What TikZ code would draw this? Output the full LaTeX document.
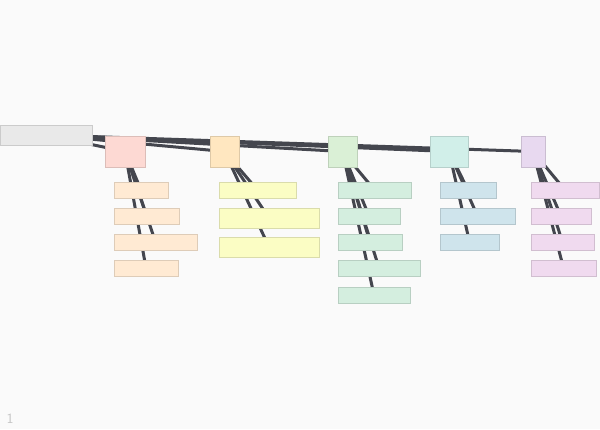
\documentclass[tikz,border=0pt]{standalone}
\usepackage{tikz}
\usetikzlibrary{fit}
\usepackage{xcolor}
\definecolor{bgcol}{HTML}{FAFAFA}
\definecolor{linkcol}{HTML}{44464E}
\definecolor{numcol}{HTML}{C4C4C4}
\definecolor{rootcol}{HTML}{E9E9E9}
\definecolor{redbr}{HTML}{FDD9D3}
\definecolor{redlf}{HTML}{FFEAD3}
\definecolor{orangebr}{HTML}{FFE7C0}
\definecolor{orangelf}{HTML}{FBFDC4}
\definecolor{greenbr}{HTML}{DAF0D6}
\definecolor{greenlf}{HTML}{D4EEDF}
\definecolor{tealbr}{HTML}{D1EFE9}
\definecolor{teallf}{HTML}{CFE4EC}
\definecolor{purplebr}{HTML}{E8D9F0}
\definecolor{purplelf}{HTML}{F0DAEF}
\pgfdeclarelayer{back}
\pgfdeclarelayer{links}
\pgfsetlayers{back,links,main}
\tikzset{
	box/.style={fill=#1, draw=#1!87!black, line width=0.75pt, inner sep=0pt},
	link/.style={draw=linkcol, line width=2.25pt},
}

\begin{document}
\begin{tikzpicture}[x=0.75pt, y=-0.75pt]
				\begin{pgfonlayer}{back}
					\fill[bgcol] (0,0) rectangle (600,429);
				\end{pgfonlayer}
				\useasboundingbox (0,0) rectangle (600,429);
				% root and branches
				\node[box=rootcol, fit={(0,125) (92,145)}] (root) {};
				\node[box=redbr, fit={(105,136) (145,167)}] (br1) {};
				\node[box=orangebr, fit={(210,136) (239,167)}] (br2) {};
				\node[box=greenbr, fit={(328,136) (357,167)}] (br3) {};
				\node[box=tealbr, fit={(430,136) (468,167)}] (br4) {};
				\node[box=purplebr, fit={(521,136) (545,167)}] (br5) {};
				% leaves
				\node[box=redlf, fit={(114,182) (168,198)}] (lf11) {};
				\node[box=redlf, fit={(114,208) (179,224)}] (lf12) {};
				\node[box=redlf, fit={(114,234) (197,250)}] (lf13) {};
				\node[box=redlf, fit={(114,260) (178,276)}] (lf14) {};
				\node[box=orangelf, fit={(219,182) (296,198)}] (lf21) {};
				\node[box=orangelf, fit={(219,208) (319,228)}] (lf22) {};
				\node[box=orangelf, fit={(219,237) (319,257)}] (lf23) {};
				\node[box=greenlf, fit={(338,182) (411,198)}] (lf31) {};
				\node[box=greenlf, fit={(338,208) (400,224)}] (lf32) {};
				\node[box=greenlf, fit={(338,234) (402,250)}] (lf33) {};
				\node[box=greenlf, fit={(338,260) (420,276)}] (lf34) {};
				\node[box=greenlf, fit={(338,287) (410,303)}] (lf35) {};
				\node[box=teallf, fit={(440,182) (496,198)}] (lf41) {};
				\node[box=teallf, fit={(440,208) (515,224)}] (lf42) {};
				\node[box=teallf, fit={(440,234) (499,250)}] (lf43) {};
				\node[box=purplelf, fit={(531,182) (599,198)}] (lf51) {};
				\node[box=purplelf, fit={(531,208) (591,224)}] (lf52) {};
				\node[box=purplelf, fit={(531,234) (594,250)}] (lf53) {};
				\node[box=purplelf, fit={(531,260) (596,276)}] (lf54) {};
				% links behind the boxes
				\begin{pgfonlayer}{links}
					\foreach \b in {br1,br2,br3,br4,br5}
						\draw[link] (root.center) -- (\b.center);
					\foreach \l in {lf11,lf12,lf13,lf14}
						\draw[link] (br1.center) -- (\l.center);
					\foreach \l in {lf21,lf22,lf23}
						\draw[link] (br2.center) -- (\l.center);
					\foreach \l in {lf31,lf32,lf33,lf34,lf35}
						\draw[link] (br3.center) -- (\l.center);
					\foreach \l in {lf41,lf42,lf43}
						\draw[link] (br4.center) -- (\l.center);
					\foreach \l in {lf51,lf52,lf53,lf54}
						\draw[link] (br5.center) -- (\l.center);
				\end{pgfonlayer}
				\node[text=numcol, font=\sffamily\fontsize{10.5}{11}\selectfont, inner sep=0pt] (pagenum) at (10,419) {1};
			\end{tikzpicture}
\end{document}
